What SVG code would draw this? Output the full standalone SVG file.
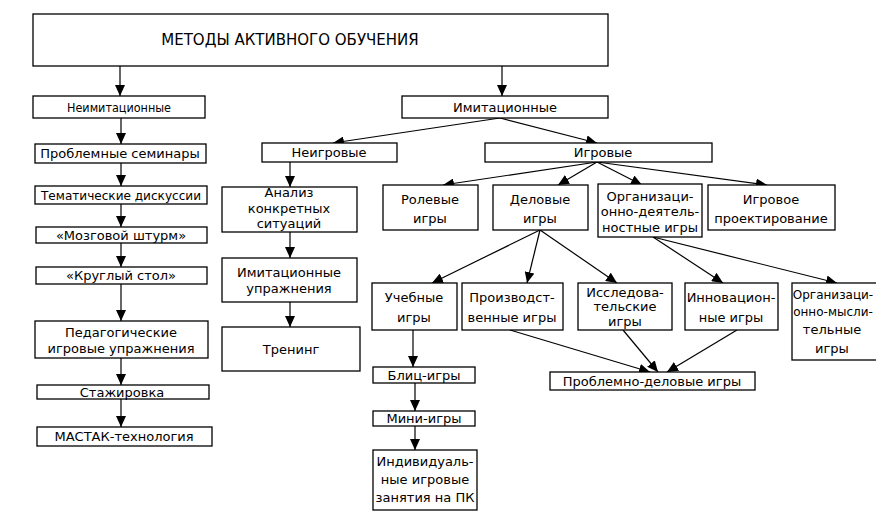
<svg xmlns="http://www.w3.org/2000/svg" width="876" height="512" viewBox="0 0 876 512">
<defs>
<marker id="ah" markerUnits="userSpaceOnUse" markerWidth="11" markerHeight="10" refX="11" refY="5" orient="auto">
<path d="M0,0 L11,5 L0,10 z" fill="#000"/>
</marker>
<style>
rect{fill:#fff;stroke:#000;stroke-width:1.3}
text{font-family:"DejaVu Sans","Liberation Sans",sans-serif;font-size:13px;fill:#000;text-anchor:middle}
.t{font-size:15px}
.s{font-size:12px}
#connectors line{stroke:#000;stroke-width:1.2;marker-end:url(#ah)}
</style>
</defs>
<rect x="0" y="0" width="876" height="512" style="stroke:none;fill:#fff"/>
<g id="connectors">
<line x1="120" y1="66" x2="120" y2="96"/>
<line x1="502" y1="66" x2="502" y2="96"/>
<line x1="121" y1="118" x2="121" y2="144"/>
<line x1="121" y1="163" x2="121" y2="186"/>
<line x1="121" y1="204" x2="121" y2="227"/>
<line x1="121" y1="243" x2="121" y2="267"/>
<line x1="121" y1="284" x2="121" y2="321"/>
<line x1="121" y1="358" x2="121" y2="385"/>
<line x1="121" y1="399" x2="121" y2="427"/>
<line x1="500" y1="118" x2="333" y2="143"/>
<line x1="500" y1="118" x2="597" y2="143"/>
<line x1="290" y1="162" x2="290" y2="187"/>
<line x1="290" y1="232" x2="290" y2="258"/>
<line x1="290" y1="302" x2="290" y2="327"/>
<line x1="597" y1="162" x2="443" y2="185"/>
<line x1="597" y1="162" x2="558" y2="185"/>
<line x1="597" y1="162" x2="642" y2="185"/>
<line x1="597" y1="162" x2="767" y2="185"/>
<line x1="540" y1="230" x2="432" y2="283"/>
<line x1="540" y1="230" x2="527" y2="283"/>
<line x1="540" y1="230" x2="617" y2="283"/>
<line x1="653" y1="237" x2="723" y2="283"/>
<line x1="653" y1="237" x2="837" y2="283"/>
<line x1="510" y1="330" x2="650" y2="372"/>
<line x1="623" y1="330" x2="658" y2="372"/>
<line x1="737" y1="330" x2="667" y2="372"/>
<line x1="413" y1="330" x2="413" y2="367"/>
<line x1="415" y1="383" x2="415" y2="411"/>
<line x1="415" y1="426" x2="415" y2="450"/>
</g>
<g id="root"><rect x="33" y="14" width="575" height="52"/><text class="t" x="290" y="45">МЕТОДЫ АКТИВНОГО ОБУЧЕНИЯ</text></g>
<g id="neimit"><rect x="33" y="96" width="172" height="22"/><text x="119" y="112" textLength="104" lengthAdjust="spacingAndGlyphs">Неимитационные</text></g>
<g id="imit"><rect x="402" y="96" width="206" height="22"/><text x="505" y="112">Имитационные</text></g>
<g id="seminary"><rect x="35" y="144" width="171" height="19"/><text x="120" y="158">Проблемные семинары</text></g>
<g id="diskussii"><rect x="35" y="186" width="172" height="18"/><text x="121" y="200" textLength="160" lengthAdjust="spacingAndGlyphs">Тематические дискуссии</text></g>
<g id="shturm"><rect x="36" y="227" width="171" height="16"/><text x="121" y="240">«Мозговой штурм»</text></g>
<g id="stol"><rect x="36" y="267" width="171" height="17"/><text x="121" y="280">«Круглый стол»</text></g>
<g id="ped"><rect x="35" y="321" width="173" height="37"/><text x="121" y="337">Педагогические</text><text x="121" y="353">игровые упражнения</text></g>
<g id="stazh"><rect x="37" y="385" width="172" height="14"/><text x="122" y="397">Стажировка</text></g>
<g id="mastak"><rect x="37" y="427" width="175" height="19"/><text x="124" y="441">МАСТАК-технология</text></g>
<g id="neigr"><rect x="262" y="143" width="135" height="19"/><text x="329" y="157">Неигровые</text></g>
<g id="analiz"><rect x="222" y="187" width="135" height="45"/><text x="289" y="197">Анализ</text><text x="289" y="213">конкретных</text><text x="289" y="228">ситуаций</text></g>
<g id="imupr"><rect x="222" y="258" width="135" height="44"/><text x="289" y="277">Имитационные</text><text x="289" y="293">упражнения</text></g>
<g id="trening"><rect x="222" y="327" width="138" height="44"/><text x="291" y="354">Тренинг</text></g>
<g id="igr"><rect x="485" y="143" width="227" height="19"/><text x="603" y="157">Игровые</text></g>
<g id="rol"><rect x="383" y="185" width="95" height="45"/><text x="430" y="204">Ролевые</text><text x="430" y="223">игры</text></g>
<g id="del"><rect x="493" y="185" width="95" height="45"/><text x="540" y="204">Деловые</text><text x="540" y="223">игры</text></g>
<g id="orgdeyat"><rect x="598" y="184" width="104" height="53"/><text x="650" y="201">Организаци-</text><text x="650" y="216">онно-деятель-</text><text x="650" y="232">ностные игры</text></g>
<g id="proekt"><rect x="708" y="185" width="127" height="45"/><text x="771" y="204">Игровое</text><text x="771" y="223">проектирование</text></g>
<g id="ucheb"><rect x="372" y="283" width="85" height="47"/><text x="414" y="302">Учебные</text><text x="414" y="322">игры</text></g>
<g id="proizv"><rect x="462" y="283" width="101" height="47"/><text x="512" y="302">Производст-</text><text x="512" y="322">венные игры</text></g>
<g id="issled"><rect x="578" y="283" width="94" height="47"/><text x="625" y="297">Исследова-</text><text x="625" y="311">тельские</text><text x="625" y="326">игры</text></g>
<g id="innov"><rect x="685" y="283" width="93" height="47"/><text x="731" y="302">Инновацион-</text><text x="731" y="322">ные игры</text></g>
<g id="orgmysl"><rect x="792" y="283" width="100" height="77"/><text class="s" x="833" y="299">Организаци-</text><text class="s" x="833" y="316">онно-мысли-</text><text x="832" y="334">тельные</text><text x="832" y="353">игры</text></g>
<g id="probldel"><rect x="550" y="372" width="205" height="18"/><text x="652" y="386">Проблемно-деловые игры</text></g>
<g id="blic"><rect x="373" y="367" width="102" height="16"/><text x="424" y="380">Блиц-игры</text></g>
<g id="mini"><rect x="373" y="411" width="102" height="15"/><text x="424" y="423">Мини-игры</text></g>
<g id="indiv"><rect x="373" y="450" width="104" height="60"/><text x="425" y="466">Индивидуаль-</text><text x="425" y="484">ные игровые</text><text x="425" y="502">занятия на ПК</text></g>
</svg>
